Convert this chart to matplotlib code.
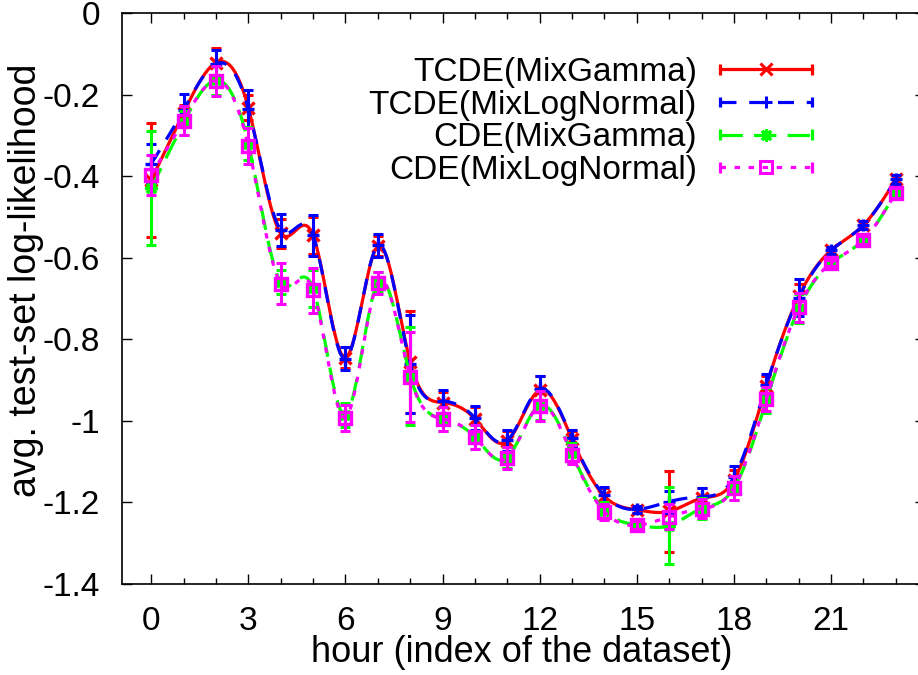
import numpy as np
import matplotlib
matplotlib.use('Agg')
import matplotlib.pyplot as plt
from matplotlib.lines import Line2D
from matplotlib.legend_handler import HandlerLine2D
from matplotlib.ticker import FormatStrFormatter, MultipleLocator

plt.rcParams['font.family'] = ['Liberation Sans', 'DejaVu Sans']
plt.rcParams['axes.unicode_minus'] = False

hours = list(range(24))

tcde_gamma = [-0.41, -0.245, -0.122, -0.232, -0.54, -0.545, -0.845, -0.572, -0.855, -0.955, -0.995, -1.05,
              -0.925, -1.045, -1.185, -1.218, -1.222, -1.19, -1.145, -0.915, -0.695, -0.582, -0.52, -0.408]
tcde_gamma_err = [0.14, 0.02, 0.035, 0.03, 0.035, 0.045, 0.025, 0.025, 0.125, 0.025, 0.03, 0.025,
                  0.035, 0.02, 0.02, 0.008, 0.10, 0.025, 0.025, 0.025, 0.03, 0.008, 0.01, 0.012]

tcde_lognormal = [-0.37, -0.238, -0.125, -0.235, -0.532, -0.545, -0.848, -0.57, -0.86, -0.952, -0.993, -1.048,
                  -0.922, -1.043, -1.183, -1.217, -1.198, -1.186, -1.138, -0.912, -0.698, -0.582, -0.52, -0.408]
tcde_lognormal_err = [0.05, 0.04, 0.035, 0.045, 0.04, 0.05, 0.028, 0.028, 0.12, 0.028, 0.03, 0.025,
                      0.033, 0.02, 0.02, 0.009, 0.027, 0.022, 0.027, 0.028, 0.045, 0.008, 0.01, 0.012]

cde_gamma = [-0.43, -0.27, -0.165, -0.32, -0.66, -0.675, -0.985, -0.66, -0.89, -0.995, -1.04, -1.09,
             -0.962, -1.08, -1.22, -1.255, -1.257, -1.215, -1.165, -0.95, -0.725, -0.613, -0.556, -0.441]
cde_gamma_err = [0.14, 0.03, 0.035, 0.04, 0.03, 0.045, 0.03, 0.025, 0.12, 0.03, 0.03, 0.025,
                 0.035, 0.025, 0.02, 0.01, 0.095, 0.025, 0.03, 0.03, 0.035, 0.008, 0.01, 0.012]

cde_lognormal = [-0.397, -0.264, -0.166, -0.326, -0.664, -0.68, -0.992, -0.662, -0.893, -0.995, -1.039, -1.091,
                 -0.963, -1.083, -1.223, -1.256, -1.235, -1.215, -1.164, -0.947, -0.722, -0.613, -0.556, -0.441]
cde_lognormal_err = [0.05, 0.035, 0.037, 0.045, 0.05, 0.055, 0.032, 0.026, 0.11, 0.03, 0.03, 0.026,
                     0.037, 0.023, 0.02, 0.01, 0.03, 0.024, 0.03, 0.03, 0.035, 0.008, 0.01, 0.012]

labels = ['TCDE(MixGamma)', 'TCDE(MixLogNormal)', 'CDE(MixGamma)', 'CDE(MixLogNormal)']
colors = ['#ff0000', '#0000ff', '#00ff00', '#ff00ff']
dashes = ['-', (0, (5, 4)), (0, (7, 3.5)), (0, (1.7, 2.7))]
markers = ['x', '+', (8, 2, 0), 's']
yticks = [0, -0.2, -0.4, -0.6, -0.8, -1, -1.2, -1.4]
xticks = [0, 3, 6, 9, 12, 15, 18, 21]


def natural_spline(x, y, xs):
    # natural cubic spline, like gnuplot "smooth csplines"
    x = np.asarray(x, float)
    y = np.asarray(y, float)
    n = len(x)
    h = np.diff(x)
    A = np.zeros((n, n))
    b = np.zeros(n)
    A[0, 0] = A[-1, -1] = 1
    for i in range(1, n - 1):
        A[i, i - 1] = h[i - 1]
        A[i, i] = 2 * (h[i - 1] + h[i])
        A[i, i + 1] = h[i]
        b[i] = 3 * ((y[i + 1] - y[i]) / h[i] - (y[i] - y[i - 1]) / h[i - 1])
    c = np.linalg.solve(A, b)
    idx = np.clip(np.searchsorted(x, xs) - 1, 0, n - 2)
    dx = xs - x[idx]
    bb = (y[idx + 1] - y[idx]) / h[idx] - h[idx] * (2 * c[idx] + c[idx + 1]) / 3
    d = (c[idx + 1] - c[idx]) / (3 * h[idx])
    return y[idx] + bb * dx + c[idx] * dx ** 2 + d * dx ** 3


class HandlerCapped(HandlerLine2D):
    def create_artists(self, legend, orig_handle, xdescent, ydescent, width, height, fontsize, trans):
        artists = super().create_artists(legend, orig_handle, xdescent, ydescent, width, height, fontsize, trans)
        xdata, _ = self.get_xdata(legend, xdescent, ydescent, width, height, fontsize)
        yc = (height - ydescent) / 2
        c = 0.16 * fontsize
        for xe in (xdata[0], xdata[-1]):
            cap = Line2D([xe, xe], [yc - c, yc + c], color=orig_handle.get_color(),
                         lw=orig_handle.get_linewidth(), solid_capstyle='butt')
            cap.set_transform(trans)
            artists.append(cap)
        return artists


fig = plt.figure(figsize=(9.18, 6.75), dpi=100)
ax = fig.add_axes([122 / 918, 91 / 675, 803 / 918, 571 / 675])

series = [(tcde_gamma, tcde_gamma_err), (tcde_lognormal, tcde_lognormal_err),
          (cde_gamma, cde_gamma_err), (cde_lognormal, cde_lognormal_err)]
xs = np.linspace(0, 23, 600)
handles = []
for k, (m, e) in enumerate(series):
    z = 3 + k
    ms = 8.5 if k == 3 else 9
    ax.errorbar(hours, m, yerr=e, fmt='none', ecolor=colors[k], elinewidth=2.2,
                capsize=3.5, capthick=2.2, zorder=z)
    ax.plot(hours, m, linestyle='none', marker=markers[k], color=colors[k], ms=ms,
            mew=2.4, mfc='none', zorder=z)
    ax.plot(xs, natural_spline(hours, m, xs), color=colors[k], lw=2.3, linestyle=dashes[k],
            dash_capstyle='butt', zorder=z)
    handles.append(Line2D([], [], color=colors[k], lw=2.3, linestyle=dashes[k], marker=markers[k],
                          ms=ms, mew=2.2, mfc='none', dash_capstyle='butt'))

ax.set_xlim(-0.9, 23.9)
ax.set_ylim(-1.4, 0)
ax.set_xticks(xticks)
ax.xaxis.set_minor_locator(MultipleLocator(1))
ax.set_yticks(yticks)
ax.yaxis.set_major_formatter(FormatStrFormatter('%g'))
ax.tick_params(which='both', direction='in', top=True, right=True, labelsize=24, pad=16, width=1)
ax.tick_params(which='major', length=7)
ax.tick_params(which='minor', length=4)
for s in ax.spines.values():
    s.set_linewidth(1.2)

fig.text(522 / 918, 1 - 653 / 675, 'hour (index of the dataset)', ha='center', va='center', fontsize=26)
fig.text(26 / 918, 1 - 280 / 675, 'avg. test-set log-likelihood', ha='center', va='center',
         rotation=90, fontsize=27)

ax.legend(handles, labels, loc='upper right', bbox_to_anchor=((812 - 122) / 803, (584 - 57) / 571),
          frameon=False, fontsize=24, markerfirst=False, numpoints=1, handlelength=2.76,
          handletextpad=0.69, labelspacing=0.05, borderpad=0, borderaxespad=0,
          handler_map={Line2D: HandlerCapped()})

fig.savefig('out.png', dpi=100)
